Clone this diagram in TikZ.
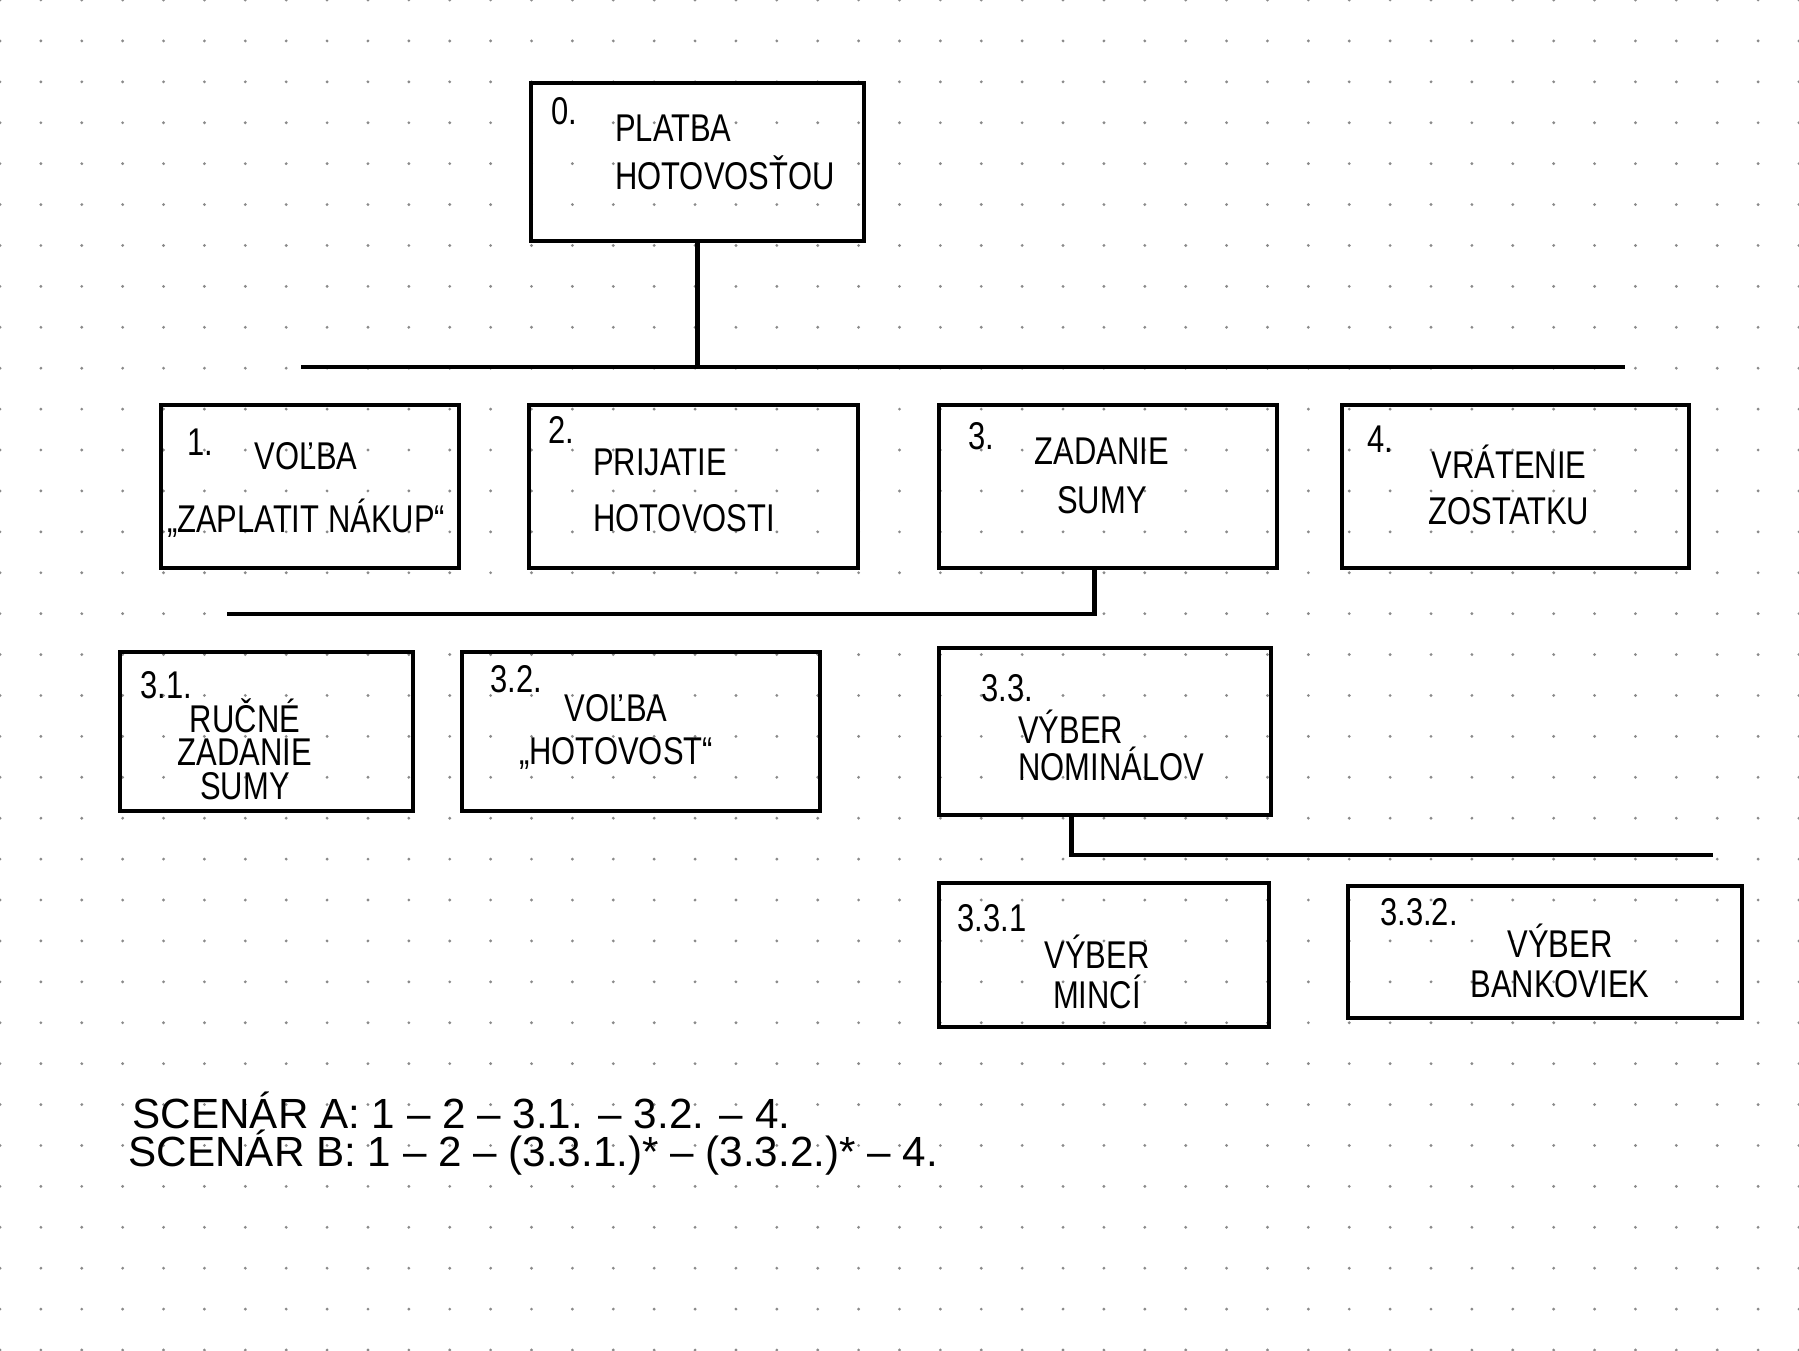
\documentclass[tikz,border=0pt]{standalone}
\usepackage{fontspec}
\setmainfont[FakeStretch=0.8]{Liberation Sans}
\newfontfamily\scenfont{Liberation Sans}
\usetikzlibrary{positioning}
\usetikzlibrary{calc}

\definecolor{dotgray}{HTML}{8A8A8A}

\begin{document}
\begin{tikzpicture}[x=0.01cm, y=-0.01cm,
  box/.style={draw, line width=1.3pt, inner sep=0pt},
  lbl/.style={font=\fontsize{11}{#1}\selectfont, align=center, inner sep=1pt},
  lbl/.default=14,
  num/.style={font=\fontsize{11}{13}\selectfont, inner sep=1pt},
  wire/.style={line width=1.3pt},
  scen/.style={font=\scenfont\fontsize{12}{14}\selectfont, anchor=west, inner sep=0pt}]

\useasboundingbox (0,0) rectangle (1799,1350);

%dotted paper
\foreach \i in {0,...,44}
  \foreach \j in {0,...,33}
    \fill[dotgray] (\i*40.886, \j*40.909) circle (0.45pt);

%level 0
\node[box, minimum width=3.33cm, minimum height=1.58cm] (b0) at (697.5,162) {};
\node[num] (n0) at (564,111) {0.};
\node[lbl=13.7, align=left, anchor=west] (t0) at (611,152) {PLATBA\\HOTOVOSŤOU};

%level 1
\node[box, minimum width=2.98cm, minimum height=1.63cm] (b1) at (310,486.5) {};
\node[box, minimum width=3.29cm, minimum height=1.63cm] (b2) at (693.5,486.5) {};
\node[box, minimum width=3.38cm, minimum height=1.63cm] (b3) at (1108,486.5) {};
\node[box, minimum width=3.47cm, minimum height=1.63cm] (b4) at (1515.5,486.5) {};

\node[num] (n1) at (200,442) {1.};
\node[num] (n2) at (561,430) {2.};
\node[num] (n3) at (981,436) {3.};
\node[num] (n4) at (1380,439) {4.};

\node[lbl=18] (t1) at (306,490) {VOĽBA\\„ZAPLATIT NÁKUP“};
\node[lbl=16, align=left, anchor=west] (t2) at (589,490) {PRIJATIE\\HOTOVOSTI};
\node[lbl=14] (t3) at (1102,476) {ZADANIE\\SUMY};
\node[lbl=13] (t4) at (1509,485) {VRÁTENIE\\ZOSTATKU};

%level 2
\node[box, minimum width=2.93cm, minimum height=1.59cm] (b31) at (266.5,731.5) {};
\node[box, minimum width=3.58cm, minimum height=1.59cm] (b32) at (641,731.5) {};
\node[box, minimum width=3.32cm, minimum height=1.67cm] (b33) at (1105,731.5) {};

\node[num] (n31) at (166,685) {3.1.};
\node[num] (n32) at (516,679) {3.2.};
\node[num] (n33) at (1007,688) {3.3.};

\node[lbl=9.5] (t31) at (245,749) {RUČNÉ\\ZADANIE\\SUMY};
\node[lbl=12] (t32) at (616,732) {VOĽBA\\„HOTOVOST“};
\node[lbl=10.5, align=left, anchor=west] (t33) at (1014,745) {VÝBER\\NOMINÁLOV};

%level 3
\node[box, minimum width=3.30cm, minimum height=1.44cm] (b331) at (1104,955) {};
\node[box, minimum width=3.94cm, minimum height=1.32cm] (b332) at (1545,952) {};

\node[num] (n331) at (992,918) {3.3.1};
\node[num] (n332) at (1419,912) {3.3.2.};

\node[lbl=11.4] (t331) at (1097,972) {VÝBER\\MINCÍ};
\node[lbl=11.4] (t332) at (1560,961) {VÝBER\\BANKOVIEK};

%connectors
\coordinate (busTopW) at (301,367);
\coordinate (busTopE) at (1625,367);
\coordinate (busMidW) at (227,614);
\coordinate (busLowE) at (1713,855);

\draw[wire] (b0.south) -- (b0.south |- busTopW);
\draw[wire] (busTopW) -- (busTopE);
\draw[wire] ($(b3.south west)!0.46!(b3.south east)$) |- (busMidW);
\draw[wire] ($(b33.south west)!0.4!(b33.south east)$) |- (busLowE);

%scenarios
\node[scen] (sA) at (132,1110) {SCENÁR A: 1 – 2 – 3.1. – 3.2. – 4.};
\node[scen] (sB) at (128,1153) {SCENÁR B: 1 – 2 – (3.3.1.)* – (3.3.2.)* – 4.};

\end{tikzpicture}
\end{document}
